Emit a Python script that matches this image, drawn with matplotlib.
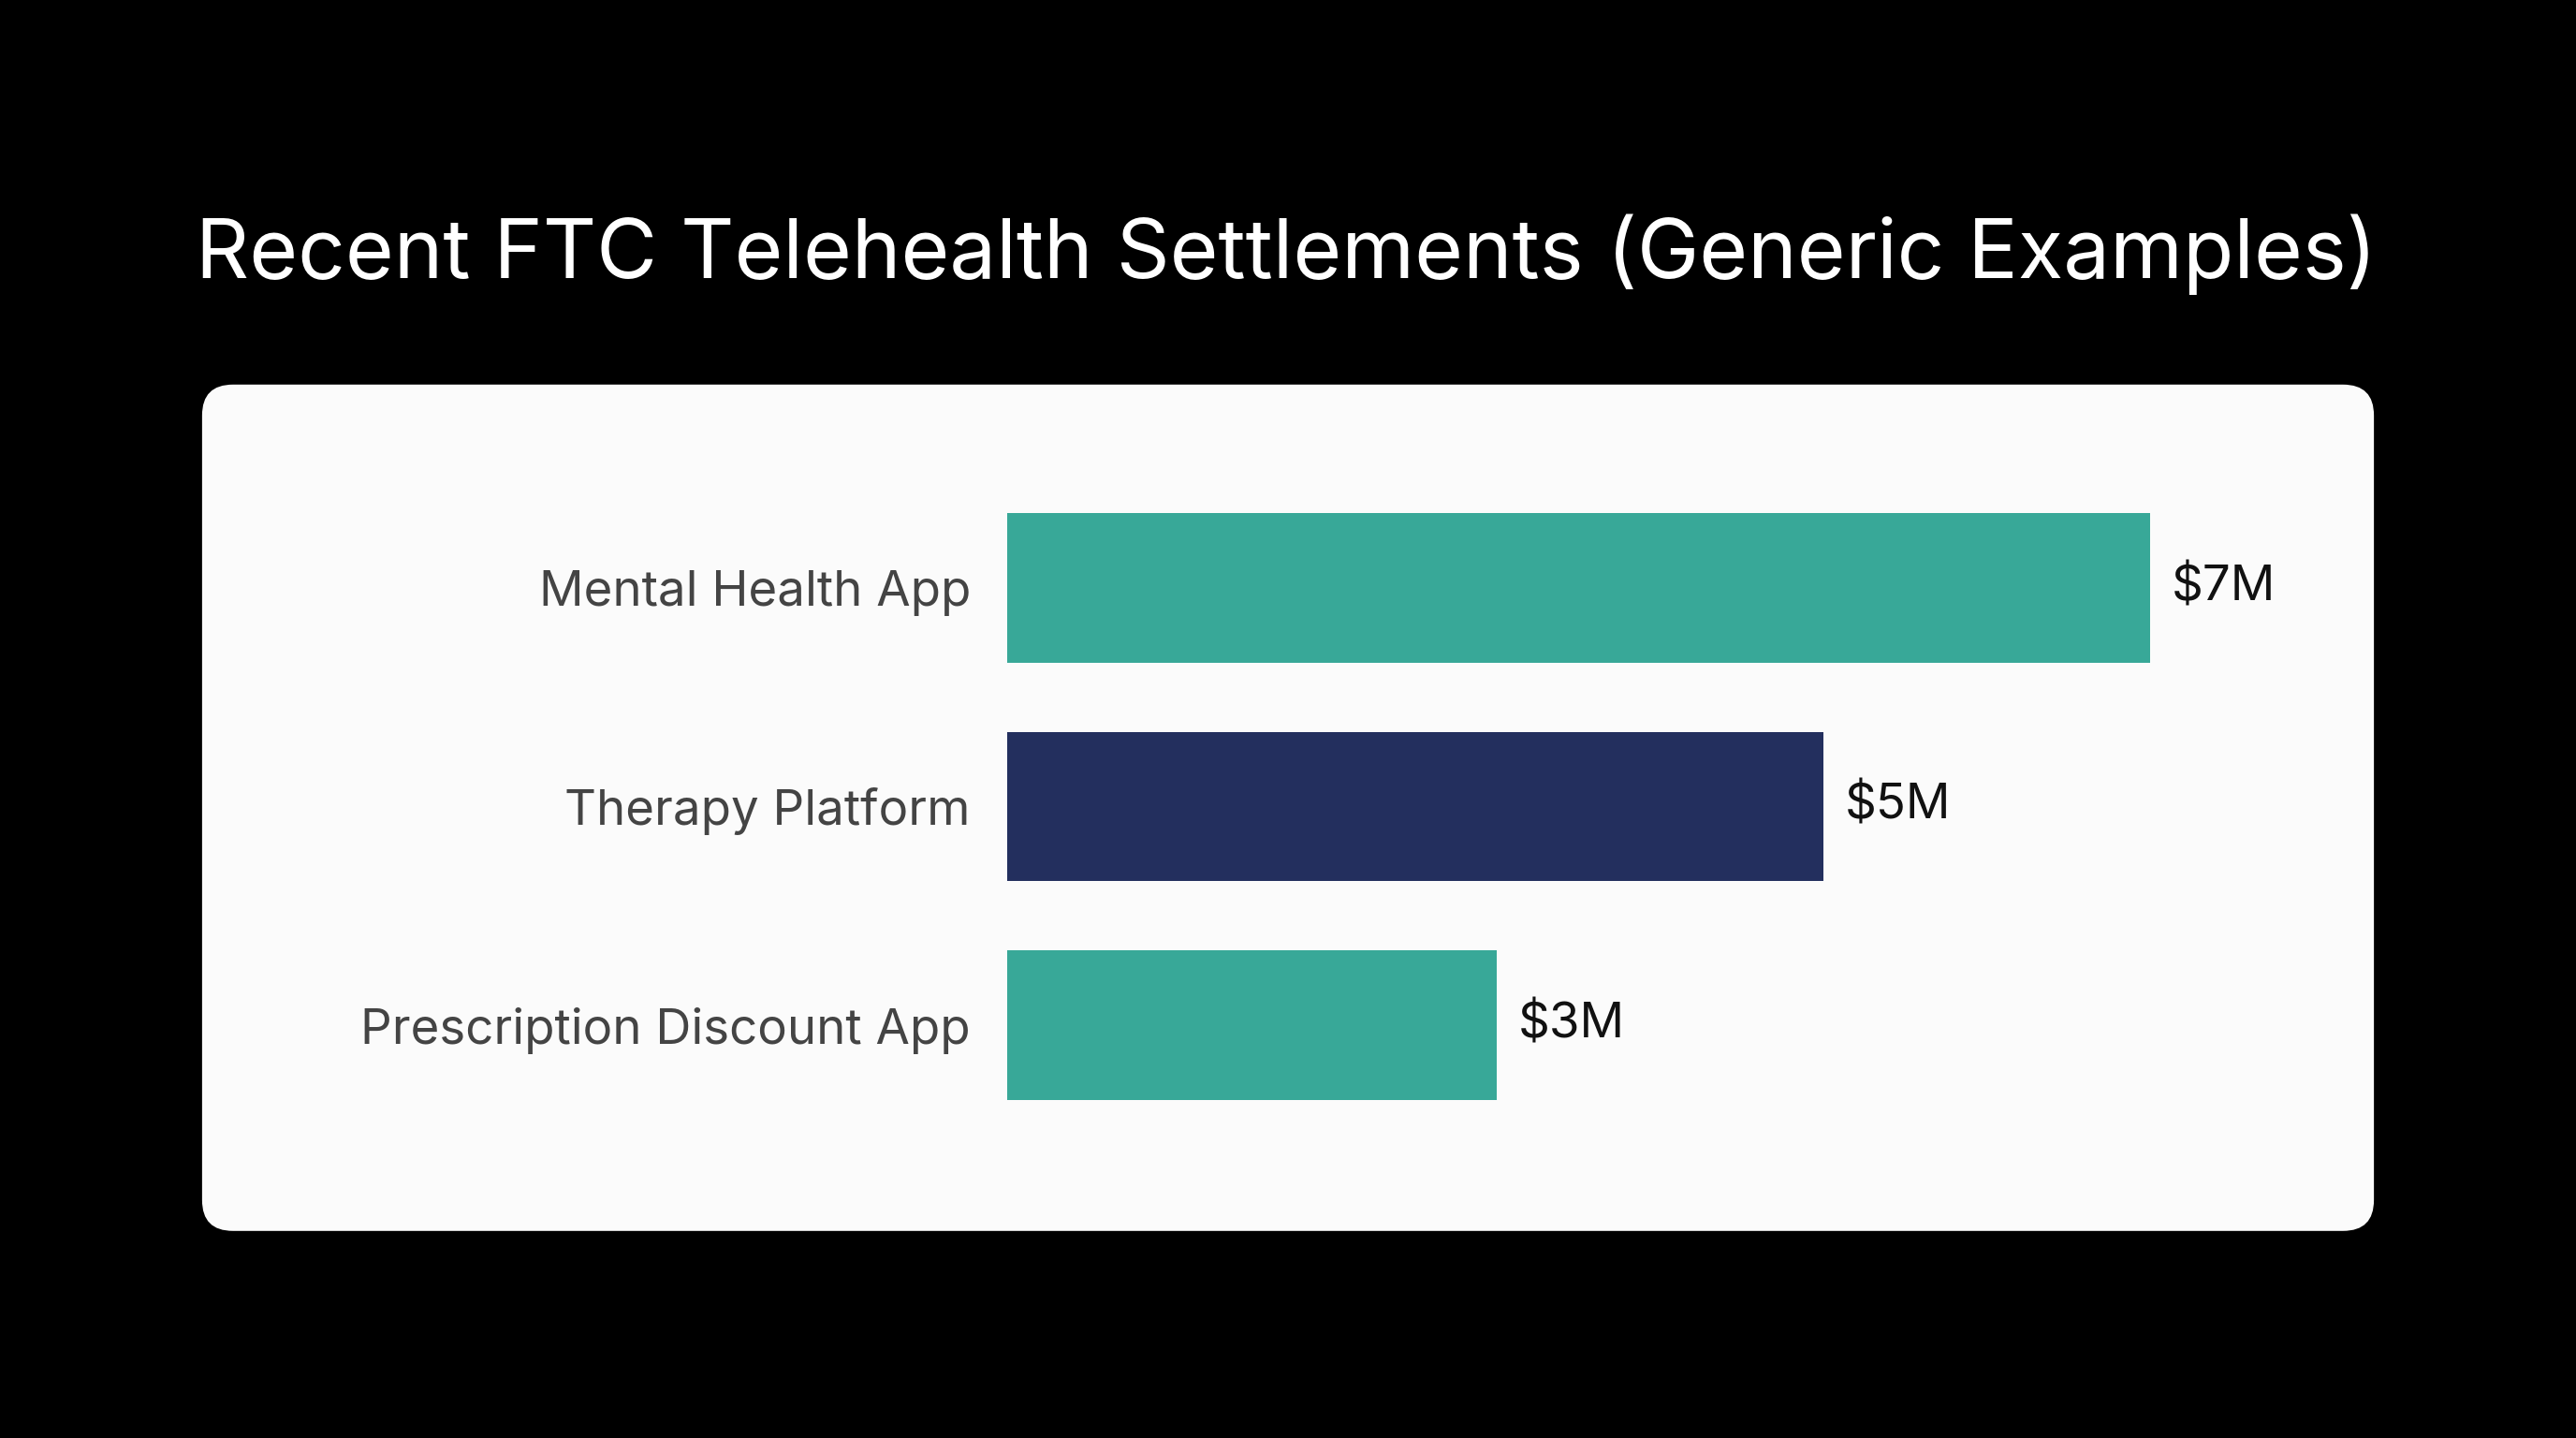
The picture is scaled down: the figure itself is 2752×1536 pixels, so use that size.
import matplotlib.pyplot as plt
from matplotlib.patches import FancyBboxPatch

categories = ["Mental Health App", "Therapy Platform", "Prescription Discount App"]
values = [7, 5, 3]
value_labels = ["$7M", "$5M", "$3M"]
colors = ["#38A898", "#232F5E", "#38A898"]

W, H = 1568, 875  # reference layout units
fig = plt.figure(figsize=(13.76, 7.68), dpi=200, facecolor="black")
plt.rcParams["font.family"] = ["Inter", "DejaVu Sans"]

fig.text(783 / W, 1 - 155 / H, "Recent FTC Telehealth Settlements (Generic Examples)",
         color="white", fontsize=32, ha="center", va="center")

panel = FancyBboxPatch((123 / W, 1 - 749 / H), (1445 - 123) / W, (749 - 234) / H,
                       boxstyle="round,pad=0,rounding_size=0.012",
                       transform=fig.transFigure, facecolor="#FBFBFB", edgecolor="none",
                       mutation_aspect=W / H, zorder=-5)
fig.patches.append(panel)

ax = fig.add_axes([613 / W, 1 - 690.5 / H, (1445 - 613) / W, 399.5 / H])
ax.set_zorder(2)
ax.set_facecolor("none")
ys = range(len(categories))
ax.barh(ys, values, height=91 / 133, color=colors)
ax.set_xlim(0, 832 / 99.4)
ax.set_ylim(2.5, -0.5)
for y, v, lab in zip(ys, values, value_labels):
    ax.text(v + 0.13, y, lab, va="center", ha="left", fontsize=19, color="#111111")
ax.set_yticks(list(ys))
ax.set_yticklabels(categories, fontsize=19, color="#444444")
ax.tick_params(axis="y", length=0, pad=14)
ax.set_xticks([])
for s in ax.spines.values():
    s.set_visible(False)

fig.savefig("out.png", dpi=200, facecolor="black")
